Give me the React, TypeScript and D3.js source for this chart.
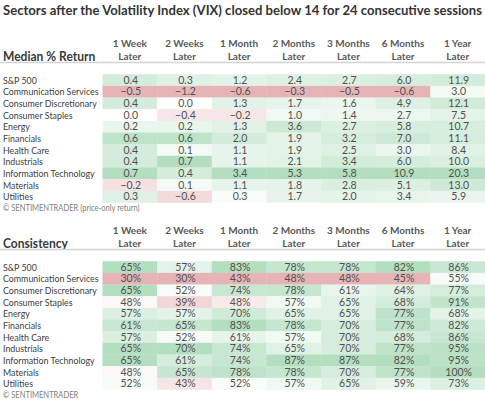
import React from "react";
import * as d3 from "d3";

const title = "Sectors after the Volatility Index (VIX) closed below 14 for 24 consecutive sessions";
const sectors = [
  "S&P 500",
  "Communication Services",
  "Consumer Discretionary",
  "Consumer Staples",
  "Energy",
  "Financials",
  "Health Care",
  "Industrials",
  "Information Technology",
  "Materials",
  "Utilities",
];
const horizons = ["1 Week", "2 Weeks", "1 Month", "2 Months", "3 Months", "6 Months", "1 Year"];

const ret1W = [0.4, -0.5, 0.4, 0.0, 0.2, 0.6, 0.4, 0.4, 0.7, -0.2, 0.3];
const ret2W = [0.3, -1.2, 0.0, -0.4, 0.2, 0.6, 0.1, 0.7, 0.4, 0.1, -0.6];
const ret1M = [1.2, -0.6, 1.3, -0.2, 1.3, 2.0, 1.1, 1.1, 3.4, 1.1, 0.3];
const ret2M = [2.4, -0.3, 1.7, 1.0, 3.6, 1.9, 1.9, 2.1, 5.3, 1.8, 1.7];
const ret3M = [2.7, -0.5, 1.6, 1.4, 2.7, 3.2, 2.5, 3.4, 5.8, 2.8, 2.0];
const ret6M = [6.0, -0.6, 4.9, 2.7, 5.8, 7.0, 3.0, 6.0, 10.9, 5.1, 3.4];
const ret1Y = [11.9, 3.0, 12.1, 7.5, 10.7, 11.1, 8.4, 10.0, 20.3, 13.0, 5.9];

const con1W = [65, 30, 65, 48, 57, 61, 57, 65, 65, 48, 52];
const con2W = [57, 30, 52, 39, 57, 65, 52, 70, 61, 65, 43];
const con1M = [83, 43, 74, 48, 70, 83, 61, 74, 74, 78, 52];
const con2M = [78, 48, 78, 57, 65, 78, 57, 65, 87, 78, 57];
const con3M = [78, 48, 61, 65, 65, 70, 70, 70, 87, 70, 65];
const con6M = [82, 45, 64, 68, 77, 77, 68, 77, 82, 77, 59];
const con1Y = [86, 55, 77, 91, 68, 82, 86, 95, 95, 100, 73];

const returnCols = [ret1W, ret2W, ret1M, ret2M, ret3M, ret6M, ret1Y];
const consistencyCols = [con1W, con2W, con1M, con2M, con3M, con6M, con1Y];

const W = 485;
const H = 400;
const FONT = "Lato, 'Noto Sans', sans-serif";
const RED = "#e6b4b7";
const GREEN = "#b3dec0";
const SQ = 0.86;

const x = d3.scaleBand<number>().domain(d3.range(horizons.length)).range([102.5, 485]).paddingInner(0);

function colorScale(col: number[], mid: number) {
  const lo = d3.min(col)!;
  const hi = d3.max(col)!;
  return d3
    .scaleLinear<string>()
    .domain([Math.min(lo, mid - 1e-6), mid, Math.max(hi, mid + 1e-6)])
    .range([RED, "#ffffff", GREEN])
    .interpolate(d3.interpolateRgb)
    .clamp(true);
}

function LeftText({ x0, y0, children, ...rest }: any) {
  return (
    <text transform={`translate(${x0},${y0}) scale(${SQ},1)`} x={0} y={0} fontFamily={FONT} {...rest}>
      {children}
    </text>
  );
}

type TableProps = {
  top: number;
  heading: string;
  cols: number[][];
  mid: number;
  fmt: (v: number) => string;
  footer: string;
  footerDy: number;
};

function Table({ top, heading, cols, mid, fmt, footer, footerDy }: TableProps) {
  const y = d3
    .scaleBand<number>()
    .domain(d3.range(sectors.length))
    .range([top + 74.2, top + 74.2 + 11.66 * sectors.length]);
  return (
    <g>
      {horizons.map((h, j) => (
        <g key={h} fontFamily={FONT} fontWeight="bold" fontSize={10} fill="#595959" textAnchor="middle">
          <text x={x(j)! + x.bandwidth() / 2} y={top + 47}>{h}</text>
          <text x={x(j)! + x.bandwidth() / 2} y={top + 59.5}>Later</text>
        </g>
      ))}
      <LeftText x0={3} y0={top + 60.5} fontWeight="bold" fontSize={14} fill="#3a3a3a">
        {heading}
      </LeftText>
      <line x1={0} x2={W} y1={top + 62.5} y2={top + 62.5} stroke="#d4d4d4" strokeWidth={1.5} />
      {cols.map((col, j) => {
        const c = colorScale(col, mid);
        return (
          <g key={j}>
            {col.map((v, i) => (
              <g key={i}>
                <rect x={x(j)!} y={y(i)!} width={x.bandwidth() + 0.3} height={y.bandwidth() + 0.3} fill={c(v)} />
                <text
                  x={x(j)! + x.bandwidth() / 2 + 1}
                  y={y(i)! + y.bandwidth() / 2 + 3.6}
                  textAnchor="middle"
                  fontFamily={FONT}
                  fontSize={10.5}
                  fill="#505050"
                >
                  {fmt(v)}
                </text>
              </g>
            ))}
          </g>
        );
      })}
      {sectors.map((s, i) => (
        <LeftText key={s} x0={3} y0={y(i)! + y.bandwidth() / 2 + 3.6} fontSize={10.3} fill="#404040">
          {s}
        </LeftText>
      ))}
      <LeftText x0={3} y0={y.range()[1] + footerDy} fontSize={8.8} fill="#808080">
        {footer}
      </LeftText>
    </g>
  );
}

export default function App() {
  return (
    <svg
      width={W}
      height={H}
      viewBox={`0 0 ${W} ${H}`}
      style={{ position: "absolute", left: 0, top: 0, background: "#ffffff" }}
    >
      <rect width={W} height={H} fill="#ffffff" />
      <text
        x={3}
        y={15}
        fontFamily={FONT}
        fontWeight="bold"
        fontSize={13}
        fill="#333333"
        textLength={479}
        lengthAdjust="spacingAndGlyphs"
      >
        {title}
      </text>
      <Table
        top={0}
        heading="Median % Return"
        cols={returnCols}
        mid={0}
        fmt={(v) => d3.format(".1f")(v)}
        footer={"© SENTIMENTRADER  (price-only return)"}
        footerDy={9}
      />
      <Table
        top={187}
        heading="Consistency"
        cols={consistencyCols}
        mid={50}
        fmt={(v) => `${v}%`}
        footer={"© SENTIMENTRADER"}
        footerDy={8.8}
      />
    </svg>
  );
}
